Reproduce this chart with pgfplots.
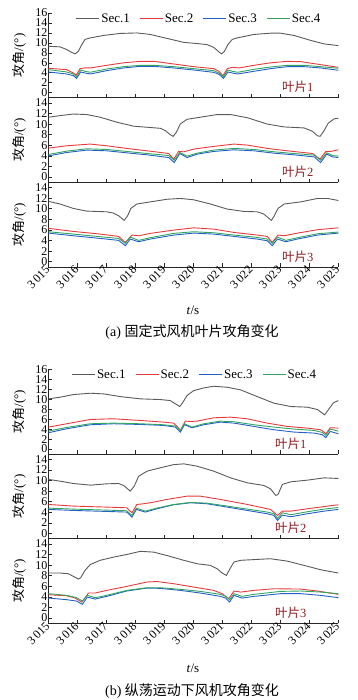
\documentclass[border=0pt]{standalone}
\usepackage{fontspec}
\setmainfont{Liberation Serif}
\newfontfamily\cjk{Noto Sans CJK SC}
\usepackage{pgfplots}
\pgfplotsset{compat=1.18}
\definecolor{cgray}{RGB}{90,90,90}
\definecolor{cred}{RGB}{232,58,58}
\definecolor{cblue}{RGB}{35,95,200}
\definecolor{cgreen}{RGB}{50,165,95}
\definecolor{cblade}{RGB}{140,30,35}
\pgfplotsset{
  panel/.style={
    scale only axis, width=289.8pt, height=84.67pt,
    xmin=3015, xmax=3025, ymin=-1,
    axis lines*=left,
    xtick={3015,3016,3017,3018,3019,3020,3021,3022,3023,3024,3025},
    xticklabels={},
    tick align=inside, major tick length=3.5pt,
    axis line style={black!85, line width=0.6pt},
    every tick/.style={black!85, line width=0.6pt},
    tick label style={font=\fontsize{12}{12}\selectfont},
    /pgf/number format/assume math mode=true,
    yticklabel style={inner sep=1pt},
    ylabel={{\cjk 攻角}/(°)},
    ylabel style={at={(axis description cs:-0.1018,0.5)}, anchor=center, font=\fontsize{13}{13}\selectfont},
    every axis plot/.append style={line width=0.9pt, no markers},
  },
  bottomlabels/.style={
    xticklabels={3\,015,3\,016,3\,017,3\,018,3\,019,3\,020,3\,021,3\,022,3\,023,3\,024,3\,025},
    xticklabel style={rotate=45, anchor=east, inner sep=1pt},
  },
  withlegend/.style={
    legend columns=4,
    legend style={draw=none, fill=none, at={(axis description cs:#1,1)}, anchor=center, yshift=-5.5pt,
      font=\fontsize{13}{13}\selectfont, /tikz/every even column/.append style={column sep=8pt},
      nodes={inner sep=1.5pt}},
    legend image code/.code={\draw[##1, line width=1pt] (0pt,0pt) -- (23pt,0pt);},
  },
}
\newcommand{\blade}[2]{\node[anchor=east, text=cblade, font=\fontsize{12.5}{13}\selectfont] at (axis description cs:#1,0.125) {{\cjk 叶片}#2};}
\begin{document}
\begin{tikzpicture}
\useasboundingbox (0pt,0pt) rectangle (358pt,700pt);
% ---------------- (a) blade 1
\begin{axis}[panel, withlegend=0.519, at={(48.5pt,602.3pt)}, anchor=south west, ymax=16, ytick={0,2,...,16}]
\addplot[cgray] coordinates {(3015,9.33)(3015.40,9.2)(3015.63,8.66)(3015.80,8.1)(3015.92,7.8)(3016.03,8.3)(3016.15,9.66)(3016.26,10.7)(3016.44,11.0)(3016.90,11.5)(3017.47,11.9)(3018.05,12.0)(3018.51,11.7)(3019.09,10.9)(3019.67,10.1)(3020.13,9.87)(3020.47,9.66)(3020.70,9.1)(3020.88,8.2)(3020.97,7.8)(3021.07,8.3)(3021.19,9.66)(3021.34,10.7)(3021.51,11.0)(3022.09,11.7)(3022.66,11.95)(3023.01,11.95)(3023.47,11.5)(3024.05,10.5)(3024.51,9.8)(3025,9.46)};
\addlegendentry{Sec.1}
\addplot[cred] coordinates {(3015,4.9)(3015.63,4.63)(3015.86,3.96)(3015.95,3.5)(3016.09,4.83)(3016.26,5.0)(3016.44,4.97)(3017.01,5.5)(3017.59,6.0)(3018.17,6.3)(3018.63,6.3)(3019.32,5.77)(3020.01,5.23)(3020.70,4.83)(3020.88,4.3)(3021.02,3.42)(3021.17,4.83)(3021.34,5.1)(3021.57,4.97)(3022.09,5.5)(3022.66,6.0)(3023.24,6.3)(3023.70,6.24)(3024.39,5.64)(3025,5.1)};
\addlegendentry{Sec.2}
\addplot[cblue] coordinates {(3015,4.16)(3015.63,3.76)(3015.86,3.42)(3015.97,2.89)(3016.11,4.16)(3016.26,3.96)(3016.44,3.76)(3017.01,4.43)(3017.59,4.97)(3018.17,5.3)(3018.63,5.3)(3019.32,4.97)(3020.01,4.56)(3020.70,4.09)(3020.88,3.7)(3021.04,2.89)(3021.19,4.16)(3021.34,3.96)(3021.53,3.76)(3022.09,4.3)(3022.66,4.83)(3023.24,5.23)(3023.82,5.23)(3024.39,4.97)(3025,4.5)};
\addlegendentry{Sec.3}
\addplot[cgreen] coordinates {(3015,4.63)(3015.63,4.16)(3015.86,3.76)(3015.97,3.22)(3016.11,4.56)(3016.26,4.3)(3016.44,4.1)(3017.01,4.76)(3017.59,5.23)(3018.17,5.5)(3018.63,5.5)(3019.32,5.23)(3020.01,4.83)(3020.70,4.43)(3020.88,3.96)(3021.03,3.22)(3021.19,4.56)(3021.34,4.3)(3021.53,4.1)(3022.09,4.7)(3022.66,5.16)(3023.24,5.5)(3023.82,5.5)(3024.39,5.23)(3025,4.9)};
\addlegendentry{Sec.4}
\blade{0.926}{1}
\end{axis}
% ---------------- (a) blade 2
\begin{axis}[panel, at={(48.5pt,517.7pt)}, anchor=south west, ymax=15, ytick={0,2,...,14}]
\addplot[cgray] coordinates {(3015,11.3)(3015.40,11.6)(3015.86,11.9)(3016.32,11.8)(3016.78,11.3)(3017.36,10.35)(3017.94,9.6)(3018.40,9.4)(3018.86,9.2)(3019.03,8.76)(3019.20,8.0)(3019.30,7.68)(3019.41,8.44)(3019.55,10.03)(3019.78,10.9)(3020.24,11.3)(3020.82,11.8)(3021.28,11.8)(3021.86,11.2)(3022.55,10.0)(3023.13,9.46)(3023.82,9.27)(3024.11,8.63)(3024.28,7.8)(3024.37,7.68)(3024.51,8.76)(3024.65,10.16)(3024.86,11.0)(3025,11.1)};
\addplot[cred] coordinates {(3015,5.46)(3015.63,5.9)(3016.44,6.22)(3017.01,5.9)(3017.70,5.4)(3018.40,4.95)(3019.15,4.44)(3019.32,3.37)(3019.49,4.83)(3019.67,4.76)(3020.01,5.27)(3020.70,5.78)(3021.40,6.22)(3021.86,6.03)(3022.55,5.4)(3023.24,4.95)(3024.11,4.44)(3024.37,3.37)(3024.57,4.83)(3024.74,4.83)(3025,5.14)};
\addplot[cblue] coordinates {(3015,4.0)(3015.63,4.63)(3016.32,5.08)(3017.01,4.95)(3017.70,4.57)(3018.40,4.19)(3019.15,3.68)(3019.34,2.73)(3019.53,4.44)(3019.78,3.68)(3020.13,4.32)(3020.70,4.83)(3021.40,5.14)(3022.09,4.95)(3022.78,4.5)(3023.47,4.19)(3024.17,3.8)(3024.39,2.73)(3024.60,4.32)(3024.80,3.8)(3025,3.68)};
\addplot[cgreen] coordinates {(3015,4.25)(3015.63,4.89)(3016.32,5.33)(3017.01,5.2)(3017.70,4.83)(3018.40,4.44)(3019.15,4.06)(3019.34,3.17)(3019.53,4.63)(3019.78,3.94)(3020.13,4.5)(3020.70,5.08)(3021.40,5.4)(3022.09,5.2)(3022.78,4.76)(3023.47,4.44)(3024.17,4.13)(3024.39,3.17)(3024.60,4.57)(3024.80,4.06)(3025,3.94)};
\blade{0.926}{2}
\end{axis}
% ---------------- (a) blade 3
\begin{axis}[panel, bottomlabels, at={(48.5pt,433pt)}, anchor=south west, ymax=15, ytick={0,2,...,14}]
\addplot[cgray] coordinates {(3015,11.4)(3015.40,10.9)(3015.86,10.06)(3016.32,9.56)(3017.01,9.43)(3017.24,9.18)(3017.42,8.68)(3017.53,8.18)(3017.61,7.8)(3017.73,8.68)(3017.84,10.06)(3018.05,10.9)(3018.51,11.3)(3019.09,11.8)(3019.55,11.95)(3020.01,11.7)(3020.59,10.9)(3021.17,9.94)(3021.74,9.5)(3022.20,9.43)(3022.43,9.0)(3022.61,8.18)(3022.69,7.8)(3022.78,8.55)(3022.92,10.06)(3023.13,10.9)(3023.70,11.3)(3024.28,11.95)(3024.63,11.95)(3025,11.57)};
\addplot[cred] coordinates {(3015,6.3)(3015.86,5.72)(3016.78,5.22)(3017.42,4.78)(3017.65,3.65)(3017.88,5.03)(3018.11,4.9)(3018.51,5.35)(3019.32,5.97)(3020.01,6.4)(3020.70,6.16)(3021.40,5.53)(3022.20,5.03)(3022.55,4.78)(3022.72,3.65)(3022.92,5.03)(3023.13,4.9)(3023.59,5.4)(3024.28,6.04)(3025,6.4)};
\addplot[cblue] coordinates {(3015,5.4)(3015.86,4.9)(3016.78,4.4)(3017.42,4.03)(3017.65,3.02)(3017.82,4.28)(3018.11,3.77)(3018.51,4.28)(3019.32,5.03)(3020.01,5.4)(3020.70,5.22)(3021.40,4.78)(3022.20,4.28)(3022.55,3.96)(3022.72,3.02)(3022.90,4.28)(3023.19,3.77)(3023.59,4.28)(3024.28,5.03)(3025,5.4)};
\addplot[cgreen] coordinates {(3015,5.66)(3015.86,5.22)(3016.78,4.72)(3017.42,4.4)(3017.65,3.46)(3017.82,4.65)(3018.11,4.03)(3018.51,4.53)(3019.32,5.35)(3020.01,5.66)(3020.70,5.47)(3021.40,5.03)(3022.20,4.59)(3022.55,4.28)(3022.72,3.46)(3022.90,4.65)(3023.19,4.03)(3023.59,4.53)(3024.28,5.28)(3025,5.6)};
\blade{0.926}{3}
\end{axis}
% ---------------- (b) blade 1
\begin{axis}[panel, withlegend=0.504, at={(48.5pt,246pt)}, anchor=south west, ymax=16, ytick={0,2,...,16}]
\addplot[cgray] coordinates {(3015,10.07)(3015.40,10.4)(3015.86,10.93)(3016.44,11.2)(3016.90,11.07)(3017.47,10.53)(3018.17,10.07)(3018.86,9.93)(3019.20,9.73)(3019.38,9.07)(3019.53,8.53)(3019.64,9.4)(3019.78,10.73)(3020.01,11.73)(3020.36,12.27)(3020.70,12.6)(3021.17,12.4)(3021.63,11.87)(3022.20,10.53)(3022.78,9.2)(3023.36,8.53)(3023.93,8.4)(3024.28,7.93)(3024.45,7.2)(3024.53,6.87)(3024.68,8.07)(3024.83,9.27)(3025,9.73)};
\addlegendentry{Sec.1}
\addplot[cred] coordinates {(3015,4.4)(3015.63,5.07)(3016.44,5.93)(3017.24,6.07)(3018.17,5.73)(3018.97,5.4)(3019.32,5.2)(3019.46,4.4)(3019.55,3.73)(3019.72,5.6)(3019.90,5.53)(3020.13,5.6)(3020.70,6.27)(3021.28,6.4)(3021.86,6.07)(3022.55,5.2)(3023.24,4.53)(3023.93,4.2)(3024.39,3.87)(3024.58,3.07)(3024.72,4.27)(3025,4.2)};
\addlegendentry{Sec.2}
\addplot[cblue] coordinates {(3015,3.27)(3015.63,4.07)(3016.44,4.87)(3017.24,5.07)(3018.17,4.93)(3018.97,4.73)(3019.38,4.4)(3019.55,3.4)(3019.69,4.87)(3019.95,4.27)(3020.36,4.87)(3020.93,5.4)(3021.40,5.2)(3022.09,4.53)(3022.78,3.87)(3023.47,3.4)(3024.17,3.2)(3024.45,2.87)(3024.57,2.27)(3024.72,3.53)(3025,3.07)};
\addlegendentry{Sec.3}
\addplot[cgreen] coordinates {(3015,3.6)(3015.63,4.33)(3016.44,5.07)(3017.24,5.2)(3018.17,5.07)(3018.97,4.87)(3019.38,4.6)(3019.55,3.73)(3019.69,5.07)(3019.95,4.4)(3020.36,5.07)(3020.93,5.6)(3021.40,5.47)(3022.09,4.87)(3022.78,4.4)(3023.47,4.0)(3024.17,3.73)(3024.45,3.33)(3024.57,2.73)(3024.72,4.0)(3025,3.6)};
\addlegendentry{Sec.4}
\blade{0.902}{1}
\end{axis}
% ---------------- (b) blade 2
\begin{axis}[panel, at={(48.5pt,161.3pt)}, anchor=south west, ymax=15, ytick={0,2,...,14}]
\addplot[cgray] coordinates {(3015,10.2)(3015.40,9.87)(3015.86,9.43)(3016.44,9.12)(3017.01,9.37)(3017.42,9.43)(3017.59,9.06)(3017.73,8.43)(3017.82,7.99)(3017.96,8.93)(3018.11,10.8)(3018.40,11.76)(3018.86,12.4)(3019.32,13.0)(3019.67,13.14)(3020.13,12.7)(3020.70,11.76)(3021.28,10.5)(3021.86,9.56)(3022.43,9.06)(3022.66,8.43)(3022.84,7.17)(3022.92,7.36)(3023.07,9.25)(3023.36,9.75)(3023.93,10.06)(3024.51,10.5)(3025,10.38)};
\addplot[cred] coordinates {(3015,5.47)(3015.86,5.16)(3017.01,4.97)(3017.70,4.84)(3017.88,3.9)(3018.05,5.47)(3018.28,5.6)(3018.51,5.79)(3019.09,6.42)(3019.78,7.04)(3020.24,7.04)(3020.93,6.42)(3021.86,5.47)(3022.66,4.53)(3022.90,3.4)(3023.07,4.21)(3023.36,4.21)(3023.93,4.65)(3024.63,5.16)(3025,5.41)};
\addplot[cblue] coordinates {(3015,4.53)(3015.86,4.34)(3017.01,4.15)(3017.70,4.03)(3017.88,3.08)(3018.03,4.53)(3018.34,4.03)(3018.74,4.65)(3019.32,5.41)(3019.90,5.79)(3020.47,5.6)(3021.17,4.97)(3021.86,4.34)(3022.55,3.71)(3022.78,3.4)(3022.90,2.45)(3023.07,3.46)(3023.36,3.14)(3023.93,3.71)(3024.51,4.21)(3025,4.53)};
\addplot[cgreen] coordinates {(3015,4.78)(3015.86,4.59)(3017.01,4.4)(3017.70,4.28)(3017.88,3.4)(3018.03,4.78)(3018.34,4.21)(3018.74,4.78)(3019.32,5.47)(3019.90,5.85)(3020.47,5.72)(3021.17,5.16)(3021.86,4.59)(3022.55,4.03)(3022.78,3.71)(3022.90,2.83)(3023.07,3.9)(3023.36,3.52)(3023.93,4.09)(3024.51,4.59)(3025,4.9)};
\blade{0.902}{2}
\end{axis}
% ---------------- (b) blade 3
\begin{axis}[panel, bottomlabels, at={(48.5pt,76.7pt)}, anchor=south west, ymax=15, ytick={0,2,...,14}]
\addplot[cgray] coordinates {(3015,8.5)(3015.40,8.5)(3015.69,8.36)(3015.86,7.86)(3016.03,7.36)(3016.11,7.6)(3016.26,9.0)(3016.44,10.1)(3016.78,10.9)(3017.24,11.5)(3017.70,12.0)(3018.17,12.6)(3018.63,12.45)(3019.09,11.8)(3019.67,10.9)(3020.13,10.25)(3020.59,9.94)(3020.82,9.3)(3020.99,8.5)(3021.14,8.05)(3021.26,9.3)(3021.40,10.57)(3021.63,10.9)(3022.20,11.07)(3022.66,11.2)(3023.24,10.75)(3023.82,9.94)(3024.39,9.12)(3025,8.5)};
\addplot[cred] coordinates {(3015,4.4)(3015.63,4.2)(3015.92,3.77)(3016.15,3.0)(3016.38,4.72)(3016.61,4.72)(3017.01,5.22)(3017.70,5.97)(3018.40,6.8)(3018.74,6.9)(3019.32,6.48)(3020.01,5.85)(3020.70,5.22)(3020.99,4.6)(3021.22,3.65)(3021.40,5.1)(3021.63,4.9)(3022.09,5.22)(3022.78,5.53)(3023.70,5.47)(3024.28,5.1)(3025,4.47)};
\addplot[cblue] coordinates {(3015,3.77)(3015.63,3.46)(3015.97,3.2)(3016.17,2.58)(3016.34,3.96)(3016.61,3.58)(3017.01,4.09)(3017.70,5.1)(3018.40,5.66)(3018.86,5.6)(3019.55,5.22)(3020.24,4.72)(3020.93,4.09)(3021.11,3.77)(3021.25,3.02)(3021.40,4.28)(3021.68,3.77)(3022.09,4.09)(3023.01,4.6)(3023.70,4.6)(3024.39,4.28)(3025,3.84)};
\addplot[cgreen] coordinates {(3015,4.6)(3015.63,4.28)(3015.97,3.84)(3016.17,3.2)(3016.34,4.28)(3016.61,3.84)(3017.01,4.28)(3017.70,5.22)(3018.40,5.72)(3018.86,5.72)(3019.55,5.41)(3020.24,5.03)(3020.93,4.47)(3021.11,4.15)(3021.25,3.46)(3021.40,4.6)(3021.68,4.09)(3022.09,4.47)(3023.01,5.03)(3023.70,5.1)(3024.39,4.9)(3025,4.6)};
\blade{0.902}{3}
\end{axis}
% ---------------- labels and captions
\node[font=\fontsize{13}{13}\selectfont] at (193pt,390pt) {\textit{t}/s};
\node[font=\fontsize{14}{14}\selectfont] at (192pt,368.3pt) {(a) {\cjk 固定式风机叶片攻角变化}};
\node[font=\fontsize{13}{13}\selectfont] at (193pt,32pt) {\textit{t}/s};
\node[font=\fontsize{14}{14}\selectfont] at (192pt,9.3pt) {(b) {\cjk 纵荡运动下风机攻角变化}};
\end{tikzpicture}
\end{document}
